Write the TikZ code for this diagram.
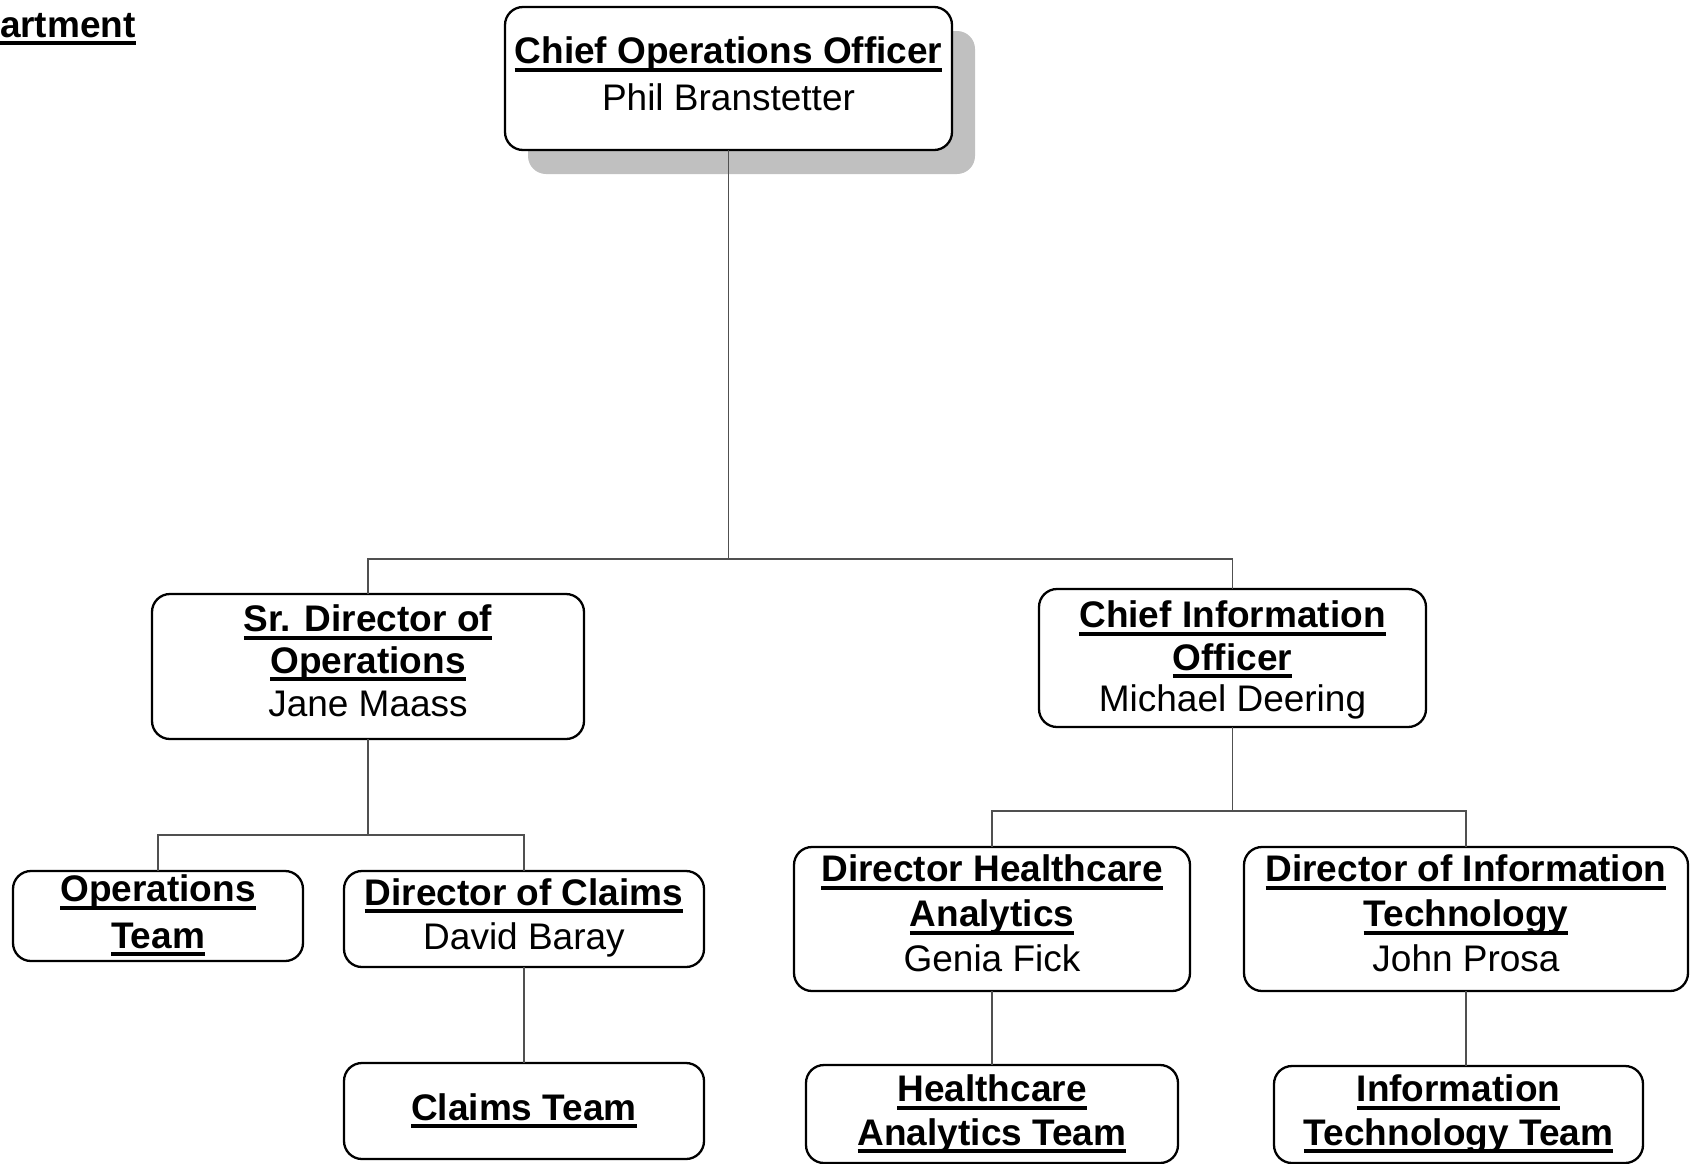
\documentclass[tikz,border=0pt]{standalone}
\usepackage{fontspec}
\setmainfont{Liberation Sans}
\definecolor{shadowgray}{RGB}{192,192,192}
\definecolor{linegray}{RGB}{80,80,80}
% bold, underlined title line
\newsavebox\ttlbox
\newcommand\ttl[1]{\sbox\ttlbox{\bfseries #1}\rlap{\rule[-8.2pt]{\wd\ttlbox}{4pt}}\usebox\ttlbox}
\begin{document}
\begin{tikzpicture}[x=1pt,y=-1pt,
  every node/.style={inner sep=0pt, outer sep=0pt},
  box/.style={draw=black, line width=2.3pt, rounded corners=18pt, fill=white, rectangle},
  shadowbox/.style={fill=shadowgray, rounded corners=18pt, rectangle},
  txt/.style={font=\fontsize{37}{44}\selectfont, anchor=base},
  conn/.style={draw=linegray, line width=1.6pt}]
\useasboundingbox (0,0) rectangle (1700,1163);

% heading (runs off the left edge)
\node[txt, anchor=base west] (dept) at (0,37) {\ttl{artment}};

% boxes
\node[shadowbox, minimum width=447pt, minimum height=143pt] (cooshadow) at (751.5,102.5) {};
\node[box, minimum width=447pt, minimum height=143pt] (coo) at (728.5,78.5) {};
\node[box, minimum width=432pt, minimum height=145pt] (sr)  at (368,666.5) {};
\node[box, minimum width=387pt, minimum height=138pt] (cio) at (1232.5,658) {};
\node[box, minimum width=290pt, minimum height=90pt]  (ops) at (158,916) {};
\node[box, minimum width=360pt, minimum height=96pt]  (dcl) at (524,919) {};
\node[box, minimum width=360pt, minimum height=96pt]  (clt) at (524,1111) {};
\node[box, minimum width=396pt, minimum height=144pt] (dha) at (992,919) {};
\node[box, minimum width=372pt, minimum height=98pt]  (hat) at (992,1114) {};
\node[box, minimum width=444pt, minimum height=144pt] (dit) at (1466,919) {};
\node[box, minimum width=369pt, minimum height=97pt]  (itt) at (1458.5,1114.5) {};

% connectors
\coordinate (j1) at (728.5,559);
\coordinate (j2) at (368,835);
\coordinate (j3) at (1232.5,811);
\draw[conn] (coo.south) -- (j1);
\draw[conn] (sr.north) |- (j1) -| (cio.north);
\draw[conn] (sr.south) -- (j2);
\draw[conn] (ops.north) |- (j2) -| (dcl.north);
\draw[conn] (dcl.south) -- (clt.north);
\draw[conn] (cio.south) -- (j3);
\draw[conn] (dha.north) |- (j3) -| (dit.north);
\draw[conn] (dha.south) -- (hat.north);
\draw[conn] (dit.south) -- (dit.south |- itt.north);

% texts
\node[txt] (coo-t) at (728.5,63.3) {\ttl{Chief Operations Officer}};
\node[txt] (coo-n) at (728.5,110) {Phil Branstetter};

\node[txt] (sr-t1) at (368,631.7) {\ttl{Sr. Director of}};
\node[txt] (sr-t2) at (368,673) {\ttl{Operations}};
\node[txt] (sr-n)  at (368,716.7) {Jane Maass};

\node[txt] (cio-t1) at (1232.5,627.3) {\ttl{Chief Information}};
\node[txt] (cio-t2) at (1232.5,670) {\ttl{Officer}};
\node[txt] (cio-n)  at (1232.5,711.7) {Michael Deering};

\node[txt] (ops-t1) at (158,901.7) {\ttl{Operations}};
\node[txt] (ops-t2) at (158,948) {\ttl{Team}};

\node[txt] (dcl-t) at (524,905) {\ttl{Director of Claims}};
\node[txt] (dcl-n) at (524,949.3) {David Baray};

\node[txt] (clt-t) at (524,1120) {\ttl{Claims Team}};

\node[txt] (dha-t1) at (992,881.7) {\ttl{Director Healthcare}};
\node[txt] (dha-t2) at (992,926.7) {\ttl{Analytics}};
\node[txt] (dha-n)  at (992,971.7) {Genia Fick};

\node[txt] (hat-t1) at (992,1101.7) {\ttl{Healthcare}};
\node[txt] (hat-t2) at (992,1145) {\ttl{Analytics Team}};

\node[txt] (dit-t1) at (1466,881.7) {\ttl{Director of Information}};
\node[txt] (dit-t2) at (1466,926.7) {\ttl{Technology}};
\node[txt] (dit-n)  at (1466,971.7) {John Prosa};

\node[txt] (itt-t1) at (1458.5,1101.7) {\ttl{Information}};
\node[txt] (itt-t2) at (1458.5,1145) {\ttl{Technology Team}};
\end{tikzpicture}
\end{document}
